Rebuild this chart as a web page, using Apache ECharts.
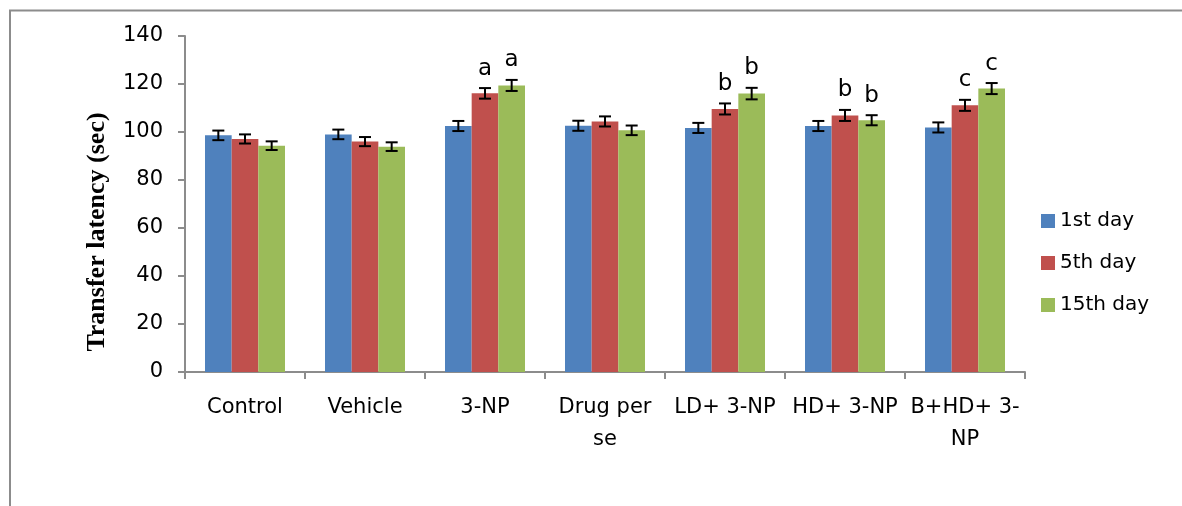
<!DOCTYPE html>
<html>
<head>
<meta charset="utf-8">
<title>Transfer latency</title>
<script src="https://cdn.jsdelivr.net/npm/echarts@6/dist/echarts.min.js"></script>
<style>
  html, body { margin: 0; padding: 0; background: #ffffff; }
  #chart { width: 1182px; height: 506px; }
</style>
</head>
<body>
<div id="chart"></div>
<script>
// Treatment groups along the x axis
const categories = ['Control', 'Vehicle', '3-NP', 'Drug per\nse', 'LD+ 3-NP', 'HD+ 3-NP', 'B+HD+ 3-\nNP'];

// Mean transfer latency (sec) per group
const day1  = [98.6, 99.0, 102.5, 102.6, 101.7, 102.5, 101.9];
const day5  = [97.1, 96.0, 116.1, 104.4, 109.6, 106.9, 111.1];
const day15 = [94.3, 93.9, 119.4, 100.7, 116.0, 104.9, 118.1];

// Standard error of each mean
const err1  = [2.0, 2.0, 2.1, 2.1, 2.1, 2.1, 2.1];
const err5  = [1.9, 1.9, 2.2, 2.1, 2.3, 2.3, 2.3];
const err15 = [1.8, 1.8, 2.3, 2.0, 2.4, 2.1, 2.3];

// Significance letters above the bars
const sig1  = ['', '', '', '', '', '', ''];
const sig5  = ['', '', 'a', '', 'b', 'b', 'c'];
const sig15 = ['', '', 'a', '', 'b', 'b', 'c'];

const seriesNames = ['1st day', '5th day', '15th day'];
const colors = ['#4F81BD', '#C0504D', '#9BBB59'];

const yTicks = { min: 0, max: 140, interval: 20 };

const FONT = 'DejaVu Sans';
const AXIS_GRAY = '#8C8C8C';

const chart = echarts.init(document.getElementById('chart'), null, { renderer: 'canvas' });

const means = [day1, day5, day15];
const errs = [err1, err5, err15];
const sigs = [sig1, sig5, sig15];

function barSeries(k) {
  return {
    name: seriesNames[k],
    type: 'bar',
    data: means[k],
    barGap: '0%',
    barCategoryGap: '33.33%',
    itemStyle: { color: colors[k], borderWidth: 0 },
    emphasis: { disabled: true },
    z: 2
  };
}

// Error bar with caps, plus an optional letter, centred on each bar
function errorSeries(k) {
  return {
    name: seriesNames[k],
    type: 'custom',
    data: means[k].map((v, i) => [i, v, errs[k][i]]),
    encode: { x: 0, y: 1 },
    clip: false,
    z: 5,
    silent: true,
    renderItem: function (params, api) {
      const i = api.value(0);
      const v = api.value(1);
      const e = api.value(2);
      const band = api.size([1, 0])[0];
      const barW = band / 4.5;
      const centre = api.coord([i, v]);
      const x = centre[0] + (k - 1) * barW;
      const yHi = api.coord([i, v + e])[1];
      const yLo = api.coord([i, v - e])[1];
      const cap = 6;
      const style = { stroke: '#000000', lineWidth: 2 };
      const children = [
        { type: 'line', shape: { x1: x, y1: yHi, x2: x, y2: yLo }, style: style },
        { type: 'line', shape: { x1: x - cap, y1: yHi, x2: x + cap, y2: yHi }, style: style },
        { type: 'line', shape: { x1: x - cap, y1: yLo, x2: x + cap, y2: yLo }, style: style }
      ];
      const letter = sigs[k][params.dataIndex];
      if (letter) {
        children.push({
          type: 'text',
          style: {
            text: letter,
            x: x,
            y: yHi - 8,
            align: 'center',
            verticalAlign: 'bottom',
            fill: '#000000',
            font: '23px "' + FONT + '"'
          }
        });
      }
      return { type: 'group', children: children };
    }
  };
}

const option = {
  animation: false,
  backgroundColor: '#ffffff',
  textStyle: { fontFamily: FONT },
  grid: { left: 185, right: 157, top: 36, bottom: 134, containLabel: false },
  legend: {
    orient: 'vertical',
    left: 1036,
    top: 206,
    data: seriesNames,
    icon: 'rect',
    itemWidth: 14,
    itemHeight: 14,
    itemGap: 22,
    textStyle: { fontFamily: FONT, fontSize: 20, color: '#000000' },
    selectedMode: false
  },
  xAxis: {
    type: 'category',
    data: categories,
    axisLine: { lineStyle: { color: AXIS_GRAY, width: 2 } },
    axisTick: { show: true, alignWithLabel: false, length: 7, lineStyle: { color: AXIS_GRAY, width: 2 } },
    axisLabel: {
      color: '#000000',
      fontFamily: FONT,
      fontSize: 21,
      margin: 20,
      lineHeight: 32,
      interval: 0
    },
    splitLine: { show: false }
  },
  yAxis: {
    type: 'value',
    min: yTicks.min,
    max: yTicks.max,
    interval: yTicks.interval,
    axisLine: { show: true, lineStyle: { color: AXIS_GRAY, width: 2 } },
    axisTick: { show: true, length: 7, lineStyle: { color: AXIS_GRAY, width: 2 } },
    axisLabel: { color: '#000000', fontFamily: FONT, fontSize: 21, margin: 22 },
    splitLine: { show: false }
  },
  graphic: [
    {
      type: 'text',
      x: 97,
      y: 232,
      rotation: Math.PI / 2,
      style: {
        text: 'Transfer latency (sec)',
        align: 'center',
        verticalAlign: 'middle',
        fill: '#000000',
        font: 'bold 26px "Liberation Serif"'
      }
    },
    {
      type: 'polyline',
      shape: { points: [[10, 520], [10, 10.5], [1200, 10.5]] },
      style: { stroke: '#8C8C8C', lineWidth: 2, fill: null }
    }
  ],
  series: [
    barSeries(0), barSeries(1), barSeries(2),
    errorSeries(0), errorSeries(1), errorSeries(2)
  ]
};

chart.setOption(option);
</script>
</body>
</html>
